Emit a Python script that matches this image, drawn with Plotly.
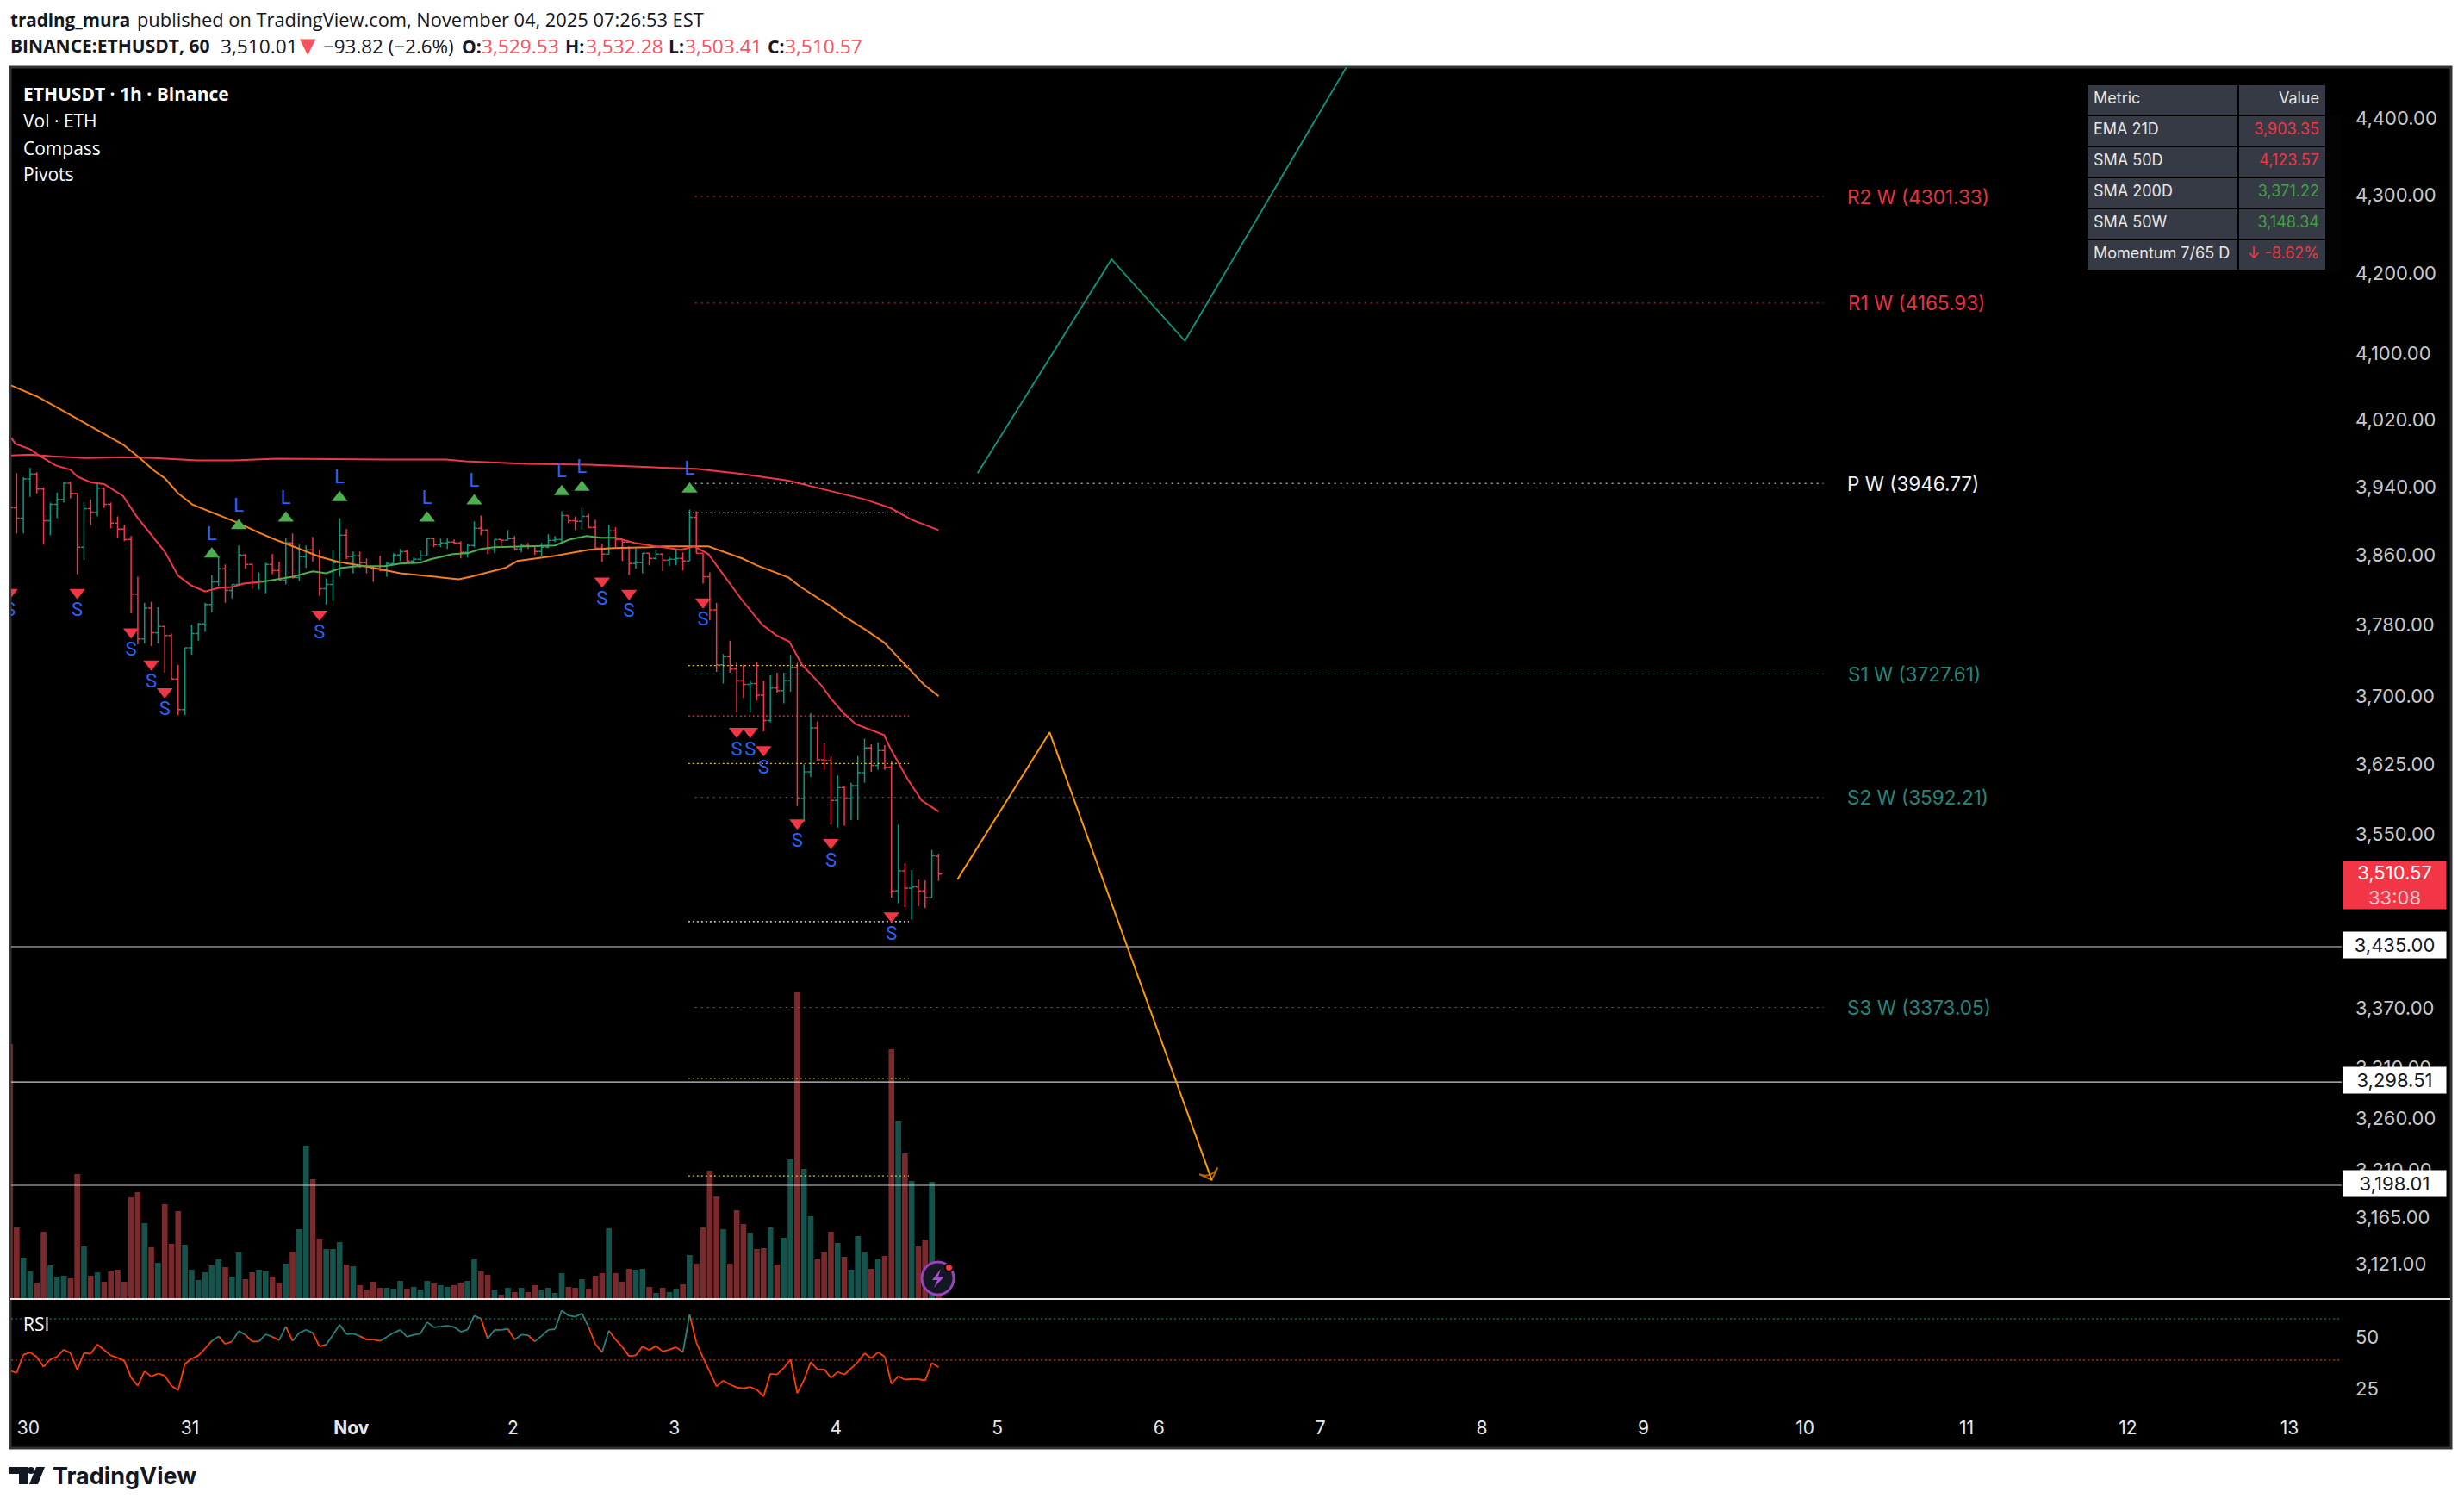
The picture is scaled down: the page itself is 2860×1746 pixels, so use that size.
import math
import pandas as pd
import plotly.graph_objects as go

W, H = 2860, 1746
START = pd.Timestamp("2025-10-29 21:00")

open_ = [3935,3918,3906,3952,3958,3940,3903,3922,3928,3947,3935,3872,3917,3913,3941,3922,3900,3893,3881,3818,
         3767,3802,3774,3781,3771,3722,3688,3757,3773,3784,3806,3832,3847,3822,3829,3863,3852,3831,3833,3852,
         3845,3834,3877,3837,3861,3869,3862,3824,3829,3854,3886,3861,3862,3854,3849,3847,3845,3853,3863,3867,
         3856,3858,3862,3882,3875,3877,3878,3877,3866,3874,3894,3892,3869,3881,3880,3882,3870,3874,3873,3867,
         3872,3880,3881,3909,3903,3902,3908,3895,3871,3864,3891,3881,3878,3853,3854,3865,3859,3864,3857,3858,
         3859,3856,3907,3865,3838,3800,3738,3747,3733,3720,3716,3717,3704,3676,3712,3709,3720,3735,3591,3620,
         3668,3633,3632,3589,3603,3591,3605,3619,3646,3627,3643,3625,3493,3514,3496,3497,3493,3486,3529.53]
high = [3945,3959,3954,3965,3960,3942,3924,3936,3948,3949,3935,3924,3928,3947,3941,3924,3908,3898,3885,3838,
        3808,3809,3803,3781,3773,3738,3757,3783,3785,3808,3840,3861,3852,3829,3874,3864,3853,3843,3854,3864,
        3855,3883,3888,3875,3874,3884,3869,3836,3868,3906,3893,3867,3867,3859,3849,3862,3855,3865,3870,3869,
        3860,3868,3883,3883,3882,3882,3881,3879,3876,3902,3909,3892,3881,3881,3892,3885,3876,3877,3874,3877,
        3887,3885,3914,3909,3908,3918,3911,3904,3876,3898,3895,3881,3873,3871,3865,3865,3868,3865,3861,3870,
        3866,3916,3914,3865,3843,3808,3750,3765,3741,3738,3721,3741,3720,3726,3729,3729,3749,3740,3628,3684,
        3675,3651,3637,3616,3605,3608,3637,3656,3650,3652,3649,3632,3563,3522,3515,3505,3504,3536,3532.28]
low = [3880,3888,3888,3931,3935,3875,3886,3906,3924,3929,3841,3857,3898,3908,3918,3894,3883,3879,3796,3761,
       3762,3759,3762,3729,3722,3682,3682,3749,3765,3775,3797,3827,3808,3813,3829,3847,3824,3823,3819,3841,
       3834,3829,3836,3833,3848,3855,3816,3806,3810,3838,3858,3842,3848,3842,3832,3844,3838,3853,3856,3855,
       3854,3856,3862,3872,3872,3870,3875,3859,3860,3872,3886,3864,3865,3871,3880,3868,3866,3870,3863,3862,
       3871,3878,3877,3900,3892,3892,3894,3870,3855,3864,3872,3856,3840,3847,3842,3851,3858,3844,3850,3851,
       3845,3856,3865,3830,3788,3730,3717,3729,3685,3701,3685,3698,3664,3674,3707,3695,3708,3583,3566,3614,
       3632,3622,3563,3560,3562,3568,3568,3608,3620,3622,3622,3486,3480,3476,3463,3477,3475,3486,3503.41]
close = [3918,3906,3952,3958,3940,3903,3922,3928,3947,3935,3872,3917,3913,3941,3922,3900,3893,3881,3818,3767,
         3802,3774,3781,3771,3722,3688,3757,3773,3784,3806,3832,3847,3822,3829,3863,3852,3831,3833,3852,3845,
         3834,3877,3837,3861,3869,3862,3824,3829,3854,3886,3861,3862,3854,3849,3847,3845,3853,3863,3867,3856,
         3858,3862,3882,3875,3877,3878,3877,3866,3874,3894,3892,3869,3881,3880,3882,3870,3874,3873,3867,3872,
         3880,3881,3909,3903,3902,3908,3895,3871,3864,3891,3881,3878,3853,3854,3865,3859,3864,3857,3858,3859,
         3856,3907,3865,3838,3800,3738,3747,3733,3720,3716,3717,3704,3676,3712,3709,3720,3735,3591,3620,3668,
         3633,3632,3589,3603,3591,3605,3619,3646,3627,3643,3625,3493,3514,3496,3497,3493,3486,3530,3510.57]
volume = [296,83,48,32,19,78,39,26,27,24,145,61,27,31,20,32,34,20,118,124,
          88,60,42,110,64,102,63,34,22,31,39,46,37,26,54,23,31,34,32,26,
          18,41,54,81,178,139,70,58,58,66,40,38,16,11,20,13,13,12,21,12,
          14,11,21,18,16,14,16,19,21,47,32,28,11,5,13,8,13,8,16,11,
          13,7,30,14,13,23,12,27,30,82,30,20,35,34,35,14,7,13,8,12,
          17,51,41,83,149,119,81,41,103,87,77,58,59,83,40,71,162,356,151,96,
          47,54,78,65,49,34,73,54,35,47,50,290,207,169,137,61,69,136,4]
rsi = [34.9,33.8,42.6,43.7,41.5,36.8,40.4,41.6,45.1,43.4,35.3,43.4,43.1,47.6,44.9,42.2,41.2,39.6,31.6,27.6,
       34.6,32.1,33.5,32.5,27.6,25.4,38.2,40.7,42.2,45.6,49.3,51.5,47.8,49.0,54.1,52.2,49.0,49.0,52.5,51.3,
       49.6,56.2,49.3,53.2,54.7,53.2,46.6,47.5,52.2,57.2,52.6,52.8,51.6,49.9,49.9,49.3,51.2,53.2,54.6,51.3,
       52.2,52.8,58.4,55.9,56.3,56.6,56.0,53.7,54.7,61.5,60.1,50.3,54.6,54.6,55.1,49.9,52.3,52.0,49.0,51.7,
       54.6,55.0,64.0,61.6,61.0,62.6,56.0,47.7,43.8,54.3,49.9,46.4,41.9,42.3,46.6,44.9,46.8,44.2,45.0,46.3,
       43.8,62.1,48.5,41.2,34.3,27.3,30.1,28.2,26.8,26.4,27.0,25.6,22.4,33.4,33.0,36.3,40.3,24.0,30.3,39.1,
       35.5,35.5,31.5,34.3,33.0,36.0,39.1,43.3,40.9,43.8,41.6,28.5,32.2,30.6,30.8,30.8,30.1,38.6,36.5]

slow_idx = [0.2,3,6.3,11.3,16.8,21.4,27.8,33.3,39.7,48.8,55.7,64.8,67.7,76.8,86,95,102,108.8,115.7,120.3,127,130.8,134,138]
slow_val = [3980,3981,3979,3977,3978,3977,3974,3974,3976,3975,3975,3975,3973,3970,3969,3966,3964,3958,3950,3941,3928,3918,3904,3892]
mid_idx = [0,4,8,13,16.8,19.3,21.4,23,25,27.1,30.5,34,37,39.7,42.4,46,48.8,53.4,58,62.5,66.7,68.5,70,73.6,75.4,81,86,89.6,95,97,103.8,108.8,111,115.7,117.5,121.6,123.9,127,129.9,133.5,135.8,138]
mid_val = [4065,4051,4033,4010,3993,3977,3962,3953,3935,3922,3911,3900,3889,3880,3872,3861,3855,3849,3842,3838,3835,3838,3841,3848,3856,3862,3869,3871,3872,3873,3873,3859,3851,3837,3826,3806,3793,3778,3763,3734,3716,3703]
fast_idx = [0.2,0.8,3.1,4.5,6.8,9,10,12,14,16.8,18.9,20.9,23,25,26.9,29,31,33,34.7,37.4,39.9,42,45,47,49.3,51.6,55.7,58,61,62.5,65.8,68,70,72,76.8,81,83.2,85.7,87.8,90,92.8,96,99.7,101.7,103.8,105.2,108.8,111.8,113.9,115.8,117.7,120.7,122,123.9,125.7,129.9,130.8,133.4,135.5,138]
fast_val = [4001,3994,3987,3979,3968,3963,3955,3948,3946,3932,3907,3887,3867,3839,3828,3821,3825,3826,3830,3832,3835,3838,3844,3842,3848,3850,3850,3853,3854,3858,3864,3865,3870,3872,3873,3874,3881,3885,3883,3883,3877,3873,3869,3873,3864,3849,3811,3783,3771,3764,3738,3714,3700,3684,3672,3660,3646,3612,3589,3577]
fast_green_from, fast_green_to = 37.4, 90

short_idx = [0,10,18,21,23,46,88,92,103,108,110,112,117,122,131]
short_val = [3820,3820,3775,3739,3708,3795,3833,3819,3809,3664,3664,3644,3565,3544,3467]
long_idx = [30,34,41,49,62,69,82,85,101]
long_val = [3864,3897,3906,3930,3906,3926,3937,3942,3940]

pivot_names = ["R2 W (4301.33)","R1 W (4165.93)","P W (3946.77)","S1 W (3727.61)","S2 W (3592.21)","S3 W (3373.05)"]
pivot_vals = [4301.33,4165.93,3946.77,3727.61,3592.21,3373.05]
pivot_cols = ["#e8323f","#e8323f","#f0f0f0","#26857b","#26857b","#26857b"]
pivot_label_x = [2226,2224,2220,2222,2225.5,2227]
level_vals = [3912,3737,3681,3629,3461,3302,3207]
level_cols = ["#ffffff","#e0c43a","#f23645","#e0c43a","#ffffff","#e0c43a","#e0c43a"]
hline_vals = [3435.00,3298.51,3198.01]
hline_text = ["3,435.00","3,298.51","3,198.01"]
price_ticks = [4400,4300,4200,4100,4020,3940,3860,3780,3700,3625,3550,3370,3310,3260,3210,3165,3121]
price_labels = ["4,400.00","4,300.00","4,200.00","4,100.00","4,020.00","3,940.00","3,860.00","3,780.00","3,700.00","3,625.00","3,550.00","3,370.00","3,310.00","3,260.00","3,210.00","3,165.00","3,121.00"]
day_dates = ["2025-10-30","2025-10-31"]+[f"2025-11-{d:02d}" for d in range(1,14)]
day_labels = ["30","31","<b>Nov</b>"]+[str(d) for d in range(2,14)]
up_path_idx = [143.8,163.7,174.6,205]
up_path_val = [3959,4221,4119,4570]
dn_path_idx = [140.8,154.5,178.6]
dn_path_val = [3505,3663,3203]

table_metric = ["EMA 21D","SMA 50D","SMA 200D","SMA 50W","Momentum\u00a07/65\u00a0D"]
table_value = ["3,903.35","4,123.57","3,371.22","3,148.34","↓\u00a0-8.62%"]
table_color = ["#f23645","#f23645","#43a047","#43a047","#f23645"]

PRICE_TOP, PRICE_BOTTOM = 4471.2, 3090.8
VOL_TOP = 1430
RSI_TOP, RSI_BOTTOM = 69.6, 18.7
X_LEFT_IDX, X_RIGHT_IDX = 0.19, 346.5
PIVOT_START, PIVOT_END = 101.8, 269.5
LEVEL_START, LEVEL_END = 100.8, 133.6

TEAL, RED, GREEN, ORANGE = "#089981", "#f23645", "#4caf50", "#f57f20"
AXFONT = "Inter"

def px(x): return x / W
def py(y): return 1 - y / H
def t(i): return START + pd.Timedelta(hours=float(i))
bars_t = [t(i) for i in range(len(close))]

fig = go.Figure()

vol_colors = ["#15544c" if c >= o else "#7a2a2c" for o, c in zip(open_, close)]
fig.add_trace(go.Bar(x=bars_t, y=volume, marker_color=vol_colors, marker_line_width=0, yaxis="y", xaxis="x"))

def price_line(x, y, color, width=1.0, dash="solid"):
    fig.add_trace(go.Scatter(x=x, y=y, mode="lines", line=dict(color=color, width=width, dash=dash),
                             yaxis="y2", xaxis="x", hoverinfo="skip"))

for v, c in zip(pivot_vals, pivot_cols):
    price_line([t(PIVOT_START), t(PIVOT_END)], [v, v], c, 1, "2px,5px")
for v, c in zip(level_vals, level_cols):
    price_line([t(LEVEL_START), t(LEVEL_END)], [v, v], c, 1.2, "2px,3px")
for v in hline_vals:
    price_line([t(X_LEFT_IDX), t(X_RIGHT_IDX)], [v, v], "#cfcfcf", 1.1)

fig.add_trace(go.Ohlc(x=bars_t, open=open_, high=high, low=low, close=close, tickwidth=0.45,
                      increasing=dict(line=dict(color=TEAL, width=1.5)),
                      decreasing=dict(line=dict(color=RED, width=1.5)),
                      yaxis="y2", xaxis="x", hoverinfo="skip"))

price_line([t(i) for i in slow_idx], slow_val, RED, 2)
price_line([t(i) for i in mid_idx], mid_val, ORANGE, 2)
ft = [t(i) for i in fast_idx]
price_line([a if (i <= fast_green_from or i >= fast_green_to) else None for a, i in zip(ft, fast_idx)],
           fast_val, RED, 2)
price_line([a for a, i in zip(ft, fast_idx) if fast_green_from <= i <= fast_green_to],
           [v for v, i in zip(fast_val, fast_idx) if fast_green_from <= i <= fast_green_to], GREEN, 2)

fig.add_trace(go.Scatter(x=[t(i) for i in short_idx], y=short_val, mode="markers+text", text=["S"]*len(short_idx),
                         textposition="bottom center", textfont=dict(color="#2962ff", size=22, family="Roboto"),
                         marker=dict(symbol="triangle-down", size=16, color=RED), yaxis="y2", xaxis="x", hoverinfo="skip"))
fig.add_trace(go.Scatter(x=[t(i) for i in long_idx], y=long_val, mode="markers+text", text=["L"]*len(long_idx),
                         textposition="top center", textfont=dict(color="#2962ff", size=22, family="Roboto"),
                         marker=dict(symbol="triangle-up", size=16, color=GREEN), yaxis="y2", xaxis="x", hoverinfo="skip"))

price_line([t(i) for i in up_path_idx], up_path_val, "#089981", 1.8)
fig.add_trace(go.Scatter(x=[t(i) for i in dn_path_idx], y=dn_path_val, mode="lines+markers",
                         line=dict(color="#ff9800", width=2),
                         marker=dict(symbol=["circle","circle","arrow-wide-open"], size=[0,0,16], angleref="previous",
                                     color="#ff9800", line=dict(color="#ff9800", width=2)),
                         yaxis="y2", xaxis="x", hoverinfo="skip"))

RSI_SPLIT = 50.5
rt, rr, gt, gr = [], [], [], []
for i in range(len(rsi) - 1):
    a, b = (gt, gr) if rsi[i + 1] >= RSI_SPLIT else (rt, rr)
    a += [bars_t[i], bars_t[i + 1], None]
    b += [rsi[i], rsi[i + 1], None]
for lvl, c in ((60, "#1f8a80"), (40, "#ff3d00")):
    fig.add_trace(go.Scatter(x=[t(X_LEFT_IDX), t(X_RIGHT_IDX)], y=[lvl, lvl], mode="lines",
                             line=dict(color=c, width=1, dash="2px,3px"), yaxis="y3", xaxis="x", hoverinfo="skip"))
fig.add_trace(go.Scatter(x=rt, y=rr, mode="lines", line=dict(color="#ff3d00", width=1.8), yaxis="y3", xaxis="x", hoverinfo="skip"))
fig.add_trace(go.Scatter(x=gt, y=gr, mode="lines", line=dict(color="#26857b", width=1.8), yaxis="y3", xaxis="x", hoverinfo="skip"))

CELL = "#363a45"
fig.add_trace(go.Table(
    domain=dict(x=[px(2422), px(2701)], y=[py(316), py(98)]),
    columnwidth=[177, 102],
    header=dict(values=["Metric", "Value"], fill_color=CELL, line=dict(color="#000000", width=2), height=36,
                align=["left", "right"], font=dict(color="#e6e6e6", size=18, family=AXFONT)),
    cells=dict(values=[table_metric, table_value], fill_color=CELL, line=dict(color="#000000", width=2), height=36,
               align=["left", "right"],
               font=dict(color=[["#e6e6e6"]*5, table_color], size=18, family=AXFONT))))

shapes = [
    dict(type="rect", xref="paper", yref="paper", x0=px(12), x1=px(2845), y0=py(1681), y1=py(78),
         fillcolor="#000000", line=dict(color="#333333", width=3), layer="below"),
    dict(type="line", xref="paper", yref="paper", x0=px(12), x1=px(2844), y0=py(1508), y1=py(1508),
         line=dict(color="#e8e8e8", width=2), layer="above"),
    dict(type="circle", xref="paper", yref="paper", x0=px(1070), x1=px(1107), y0=py(1503), y1=py(1465),
         fillcolor="#131722", line=dict(color="#9c3fc0", width=3), layer="above"),
    dict(type="circle", xref="paper", yref="paper", x0=px(1097), x1=px(1106), y0=py(1476), y1=py(1467),
         fillcolor="#f23645", line=dict(color="#000000", width=2), layer="above"),
    dict(type="path", xref="paper", yref="paper", fillcolor="#131722", line=dict(width=0),
         path=f"M{px(11)},{py(1703)} L{px(32)},{py(1703)} L{px(32)},{py(1723)} L{px(22)},{py(1723)} L{px(22)},{py(1711)} L{px(11)},{py(1711)} Z"),
    dict(type="circle", xref="paper", yref="paper", fillcolor="#131722", line=dict(width=0),
         x0=px(32), x1=px(40), y0=py(1711), y1=py(1703)),
    dict(type="path", xref="paper", yref="paper", fillcolor="#131722", line=dict(width=0),
         path=f"M{px(42)},{py(1703)} L{px(52)},{py(1703)} L{px(44)},{py(1723)} L{px(34)},{py(1723)} Z"),
]
bolt = [(1092,1473),(1082,1486),(1088,1486),(1084,1495),(1096,1482),(1089,1482)]
shapes.append(dict(type="path", xref="paper", yref="paper", fillcolor="#a64fd0", line=dict(width=0),
                   path="M" + " L".join(f"{px(a)},{py(b)}" for a, b in bolt) + " Z", layer="above"))

def note(x, y, text, size=22, color="#131722", family="Open Sans", **kw):
    d = dict(xref="paper", yref="paper", x=px(x), y=py(y), text=text, showarrow=False, xanchor="left",
             yanchor="middle", font=dict(size=size, color=color, family=family), xshift=-1)
    d.update(kw)
    return d

R = "#f7525f"
anns = [
    note(11, 23, "<b>trading_mura</b>", 20.6),
    note(158, 23, "published on TradingView.com, November 04, 2025 07:26:53 EST", 21.85),
    note(11, 53, "<b>BINANCE:ETHUSDT, 60</b>", 21),
    note(255, 53, "3,510.01", 22.7),
    note(347, 53, "▼", 24, R, "DejaVu Sans"),
    note(374, 53, "−93.82 (−2.6%)", 22.4),
    note(535, 53, "<b>O:</b>", 21.2), note(558, 53, "3,529.53", 22.7, R),
    note(655, 53, "<b>H:</b>", 21.2), note(679, 53, "3,532.28", 22.7, R),
    note(775, 53, "<b>L:</b>", 21.2), note(794, 53, "3,503.41", 22.7, R),
    note(890, 53, "<b>C:</b>", 21.2), note(910, 53, "3,510.57", 22.7, R),
    note(26, 109, "<b>ETHUSDT · 1h · Binance</b>", 21, "#ffffff"),
    note(26, 140, "Vol · ETH", 21, "#ffffff"),
    note(26, 172, "Compass", 21, "#ffffff"),
    note(26, 202, "Pivots", 21, "#ffffff"),
    note(26, 1537, "RSI", 21, "#ffffff"),
    note(60, 1713, "<b>TradingView</b>", 27, "#131722", "Inter"),
    note(2720, 1027, "3,510.57<br><span style='color:#ffc4ca'>33:08</span>", 22, "#ffffff", AXFONT,
         bgcolor=RED, width=119, height=55, align="center", borderpad=0),
]
for name, v, c, lx in zip(pivot_names, pivot_vals, pivot_cols, pivot_label_x):
    anns.append(dict(xref="paper", yref="y2", x=px(lx), y=math.log10(v), text=name, showarrow=False,
                     xanchor="center", yanchor="middle", font=dict(size=22.5, color=c, family=AXFONT)))
for v, s in zip(hline_vals, hline_text):
    anns.append(dict(xref="paper", yref="y2", x=px(2719), y=math.log10(v), text=s, showarrow=False, xanchor="left",
                     yanchor="middle", bgcolor="#ffffff", width=119, height=30, align="center", borderpad=0, yshift=2,
                     font=dict(size=22, color="#131722", family=AXFONT)))

fig.update_layout(
    width=W, height=H, margin=dict(l=0, r=0, t=0, b=0), showlegend=False,
    paper_bgcolor="#ffffff", plot_bgcolor="rgba(0,0,0,0)", bargap=0.15, shapes=shapes, annotations=anns,
    xaxis=dict(domain=[px(13), px(2718)], type="date", range=[t(X_LEFT_IDX), t(X_RIGHT_IDX)], anchor="y3",
               tickmode="array", tickvals=day_dates, ticktext=day_labels, showgrid=False, zeroline=False,
               tickfont=dict(size=21, color="#e8e8e8", family=AXFONT), ticks="", ticklabelstandoff=13,
               ticklabelshift=-2, rangeslider=dict(visible=False), showline=False),
    yaxis=dict(domain=[py(1508), py(78)], range=[0, VOL_TOP], visible=False),
    yaxis2=dict(domain=[py(1508), py(78)], overlaying="y", anchor="x", side="right", type="log",
                range=[math.log10(PRICE_BOTTOM), math.log10(PRICE_TOP)], tickmode="array", tickvals=price_ticks,
                ticktext=price_labels, showgrid=False, zeroline=False, showline=False, ticks="",
                ticklabelstandoff=15, ticklabelshift=-3, tickfont=dict(size=22, color="#c8c8c8", family=AXFONT)),
    yaxis3=dict(domain=[py(1630), py(1508)], anchor="x", side="right", range=[RSI_BOTTOM, RSI_TOP],
                tickmode="array", tickvals=[50, 25], ticktext=["50", "25"], showgrid=False, zeroline=False,
                showline=False, ticks="", ticklabelstandoff=15, ticklabelshift=-3,
                tickfont=dict(size=22, color="#c8c8c8", family=AXFONT)),
)
fig.write_html("out.html", config=dict(displayModeBar=False),
               post_script="document.body.style.margin='0';document.documentElement.style.overflow='hidden';")
